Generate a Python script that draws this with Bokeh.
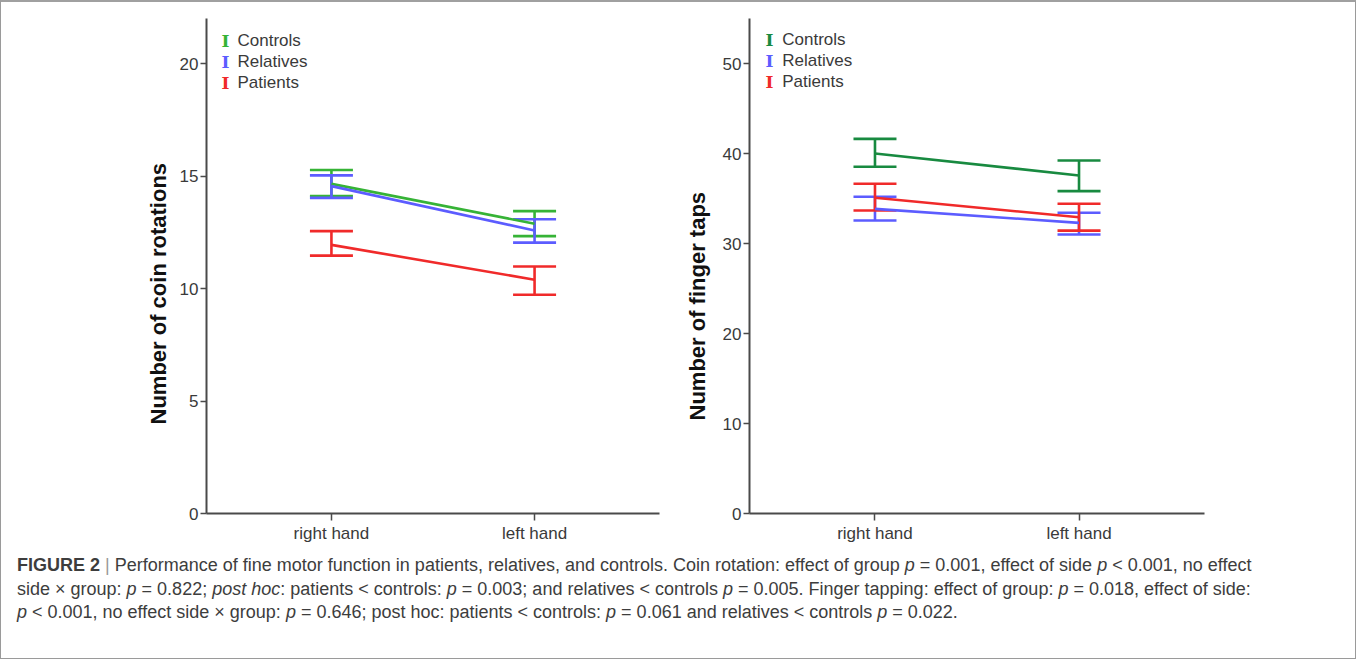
from bokeh.plotting import figure
from bokeh.models import Range1d, FixedTicker, Whisker, TeeHead, ColumnDataSource, Div, Title
from bokeh.layouts import row, column
from bokeh.core.properties import value
from bokeh.embed import file_html
from bokeh.resources import INLINE

# ---------------- data ----------------
hands = ["right hand", "left hand"]
groups = ["Controls", "Relatives", "Patients"]

# coin rotations (mean, lower CI, upper CI) per hand
coin_controls_mean = [14.65, 12.88]
coin_controls_lo = [14.11, 12.33]
coin_controls_hi = [15.27, 13.44]
coin_relatives_mean = [14.55, 12.58]
coin_relatives_lo = [14.03, 12.04]
coin_relatives_hi = [15.03, 13.08]
coin_patients_mean = [11.94, 10.39]
coin_patients_lo = [11.46, 9.72]
coin_patients_hi = [12.55, 10.98]

# finger taps
tap_controls_mean = [40.0, 37.56]
tap_controls_lo = [38.53, 35.82]
tap_controls_hi = [41.63, 39.23]
tap_relatives_mean = [33.85, 32.29]
tap_relatives_lo = [32.55, 31.0]
tap_relatives_hi = [35.19, 33.41]
tap_patients_mean = [35.08, 32.91]
tap_patients_lo = [33.66, 31.43]
tap_patients_hi = [36.64, 34.41]

coin_ticks = [0, 5, 10, 15, 20]
tap_ticks = [0, 10, 20, 30, 40, 50]

colors_left = ["#36b336", "#5c5cff", "#f02a2a"]
colors_right = ["#188a40", "#5c5cff", "#f02a2a"]

FONT = "Liberation Sans"
AXIS_COLOR = "#4a4a4a"
TEXT_COLOR = "#3a3a3a"
X0, X1 = 0.385, 2.615


def make_panel(series, ylabel, ymax, ticks, colors, width, left, right,
               leg_dx_icon, leg_dx_text, leg_dy, lab_standoff, lab_offset):
    xs = [i + 1 for i in range(len(hands))]
    p = figure(width=width, height=546, x_range=Range1d(X0, X1),
               y_range=Range1d(0, ymax), min_border_left=left,
               min_border_right=right, min_border_top=16, min_border_bottom=35,
               output_backend="svg", toolbar_location=None,
               tools="")
    p.outline_line_color = None
    p.xgrid.visible = False
    p.ygrid.visible = False
    p.background_fill_color = "white"
    p.border_fill_color = "white"

    for (mean, lo, hi), col in zip(series, colors):
        src = ColumnDataSource(dict(x=xs, m=mean, lo=lo, hi=hi))
        p.line("x", "m", source=src, line_color=col, line_width=2.6)
        w = Whisker(base="x", lower="lo", upper="hi", source=src,
                    line_color=col, line_width=2.6,
                    upper_head=TeeHead(size=43, line_color=col, line_width=2.6),
                    lower_head=TeeHead(size=43, line_color=col, line_width=2.6))
        p.add_layout(w)

    # legend drawn as error-bar style "I" icons + labels
    frame_w = width - left - right
    xpx = frame_w / (X1 - X0)
    ypx = 495.0 / ymax
    ix = X0 + leg_dx_icon / xpx
    tx = X0 + leg_dx_text / xpx
    ys = [ymax - (leg_dy + 21 * i) / ypx for i in range(len(groups))]
    p.text(x=[ix] * len(groups), y=ys, text=["I"] * len(groups),
           text_color=colors, text_font=value("DejaVu Serif"),
           text_font_style="bold", text_font_size="17px",
           text_align="center", text_baseline="middle")
    p.text(x=[tx] * len(groups), y=ys, text=groups, text_color=TEXT_COLOR,
           text_font=value(FONT), text_font_size="17px",
           text_align="left", text_baseline="middle")

    p.xaxis.ticker = FixedTicker(ticks=xs)
    p.xaxis.major_label_overrides = {x: h for x, h in zip(xs, hands)}
    p.yaxis.ticker = FixedTicker(ticks=ticks)
    for ax in (p.xaxis, p.yaxis):
        ax.axis_line_color = AXIS_COLOR
        ax.axis_line_width = 2
        ax.major_tick_line_color = AXIS_COLOR
        ax.major_tick_line_width = 1.5
        ax.major_tick_in = 0
        ax.minor_tick_line_color = None
        ax.major_label_text_font = FONT
        ax.major_label_text_font_size = "17px"
        ax.major_label_text_color = TEXT_COLOR
    p.yaxis.major_tick_out = 6
    p.xaxis.major_tick_out = 7
    p.yaxis.major_label_standoff = 2
    p.xaxis.major_label_standoff = 3

    # y-axis title, anchored from the bottom of the frame like the original
    t = Title(text=ylabel, align="left", offset=lab_offset,
              standoff=lab_standoff, text_font=FONT, text_font_style="bold",
              text_font_size="22px", text_color="#111111")
    p.add_layout(t, "left")
    return p


left_series = [(coin_controls_mean, coin_controls_lo, coin_controls_hi),
               (coin_relatives_mean, coin_relatives_lo, coin_relatives_hi),
               (coin_patients_mean, coin_patients_lo, coin_patients_hi)]
right_series = [(tap_controls_mean, tap_controls_lo, tap_controls_hi),
                (tap_relatives_mean, tap_relatives_lo, tap_relatives_hi),
                (tap_patients_mean, tap_patients_lo, tap_patients_hi)]

p1 = make_panel(left_series, "Number of coin rotations", 22, coin_ticks,
                colors_left, 671, 205, 13, 19, 31, 22, 12, 89)
p2 = make_panel(right_series, "Number of finger taps", 55, tap_ticks,
                colors_right, 673, 74, 141, 20, 33, 21, 20, 93)

caption_html = (
    "<b>FIGURE 2</b> <span style='color:#999'>|</span> Performance of fine motor function in patients, relatives, and controls. "
    "Coin rotation: effect of group <i>p</i> = 0.001, effect of side <i>p</i> &lt; 0.001, no effect<br>"
    "side \u00d7 group: <i>p</i> = 0.822; <i>post hoc</i>: patients &lt; controls: <i>p</i> = 0.003; "
    "and relatives &lt; controls <i>p</i> = 0.005. Finger tapping: effect of group: <i>p</i> = 0.018, effect of side:<br>"
    "<i>p</i> &lt; 0.001, no effect side \u00d7 group: <i>p</i> = 0.646; post hoc: patients &lt; controls: "
    "<i>p</i> = 0.061 and relatives &lt; controls <i>p</i> = 0.022."
)
cap = Div(text=caption_html, width=1344, height=100,
          styles={"font-family": "Liberation Sans, Arial, sans-serif",
                  "font-size": "18px", "color": "#3d3d3d",
                  "line-height": "23.5px", "padding-left": "11px",
                  "padding-top": "1px", "white-space": "nowrap"})

layout = column(row(p1, p2), cap,
                styles={"border": "1px solid #9a9a9a",
                        "border-top": "2px solid #a0a0a0"})

open("out.html", "w").write(file_html(layout, INLINE))
